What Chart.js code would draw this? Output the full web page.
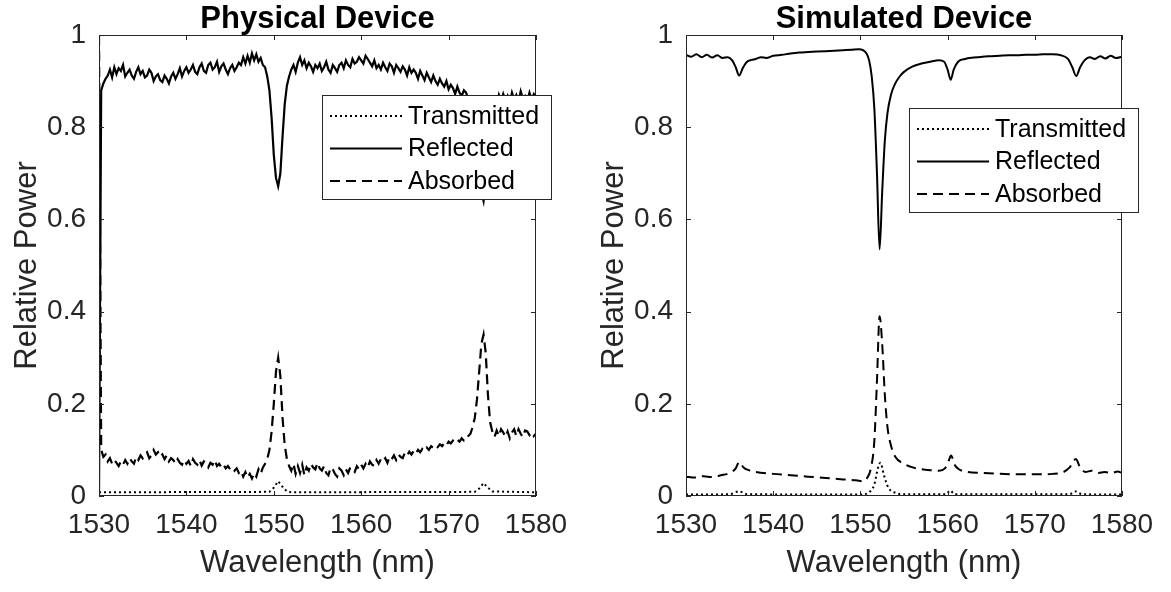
<!DOCTYPE html>
<html>
<head>
<meta charset="utf-8">
<script src="https://cdn.jsdelivr.net/npm/chart.js@4"></script>
<style>
  body { margin: 0; background: #fff; }
  #wrap { position: relative; width: 1171px; height: 592px; }
  canvas { position: absolute; top: 0; }
</style>
</head>
<body>
<div id="wrap">
  <canvas id="physChart" width="585" height="592" style="left:0px"></canvas>
  <canvas id="simChart" width="584" height="592" style="left:587px"></canvas>
</div>
<script>
// ---- data ----
const seriesNames = ['Transmitted', 'Reflected', 'Absorbed'];
const xTicks = [1530, 1540, 1550, 1560, 1570, 1580];
const yTicks = [0, 0.2, 0.4, 0.6, 0.8, 1];

// physical device: measured on a 0.25 nm grid from 1530 nm
const physGridStart = 1530;
const physGridStep = 0.25;
const physReflected = [
  0.00, 0.88, 0.895, 0.905, 0.912, 0.925, 0.908, 0.93, 0.915, 0.928, 0.922, 0.935,
  0.91, 0.918, 0.925, 0.912, 0.905, 0.92, 0.93, 0.915, 0.922, 0.908, 0.912, 0.925,
  0.918, 0.90, 0.91, 0.915, 0.902, 0.898, 0.912, 0.905, 0.895, 0.91, 0.918, 0.905,
  0.915, 0.928, 0.91, 0.922, 0.93, 0.918, 0.925, 0.935, 0.92, 0.915, 0.93, 0.938,
  0.922, 0.918, 0.935, 0.94, 0.925, 0.93, 0.942, 0.92, 0.932, 0.938, 0.925, 0.915,
  0.928, 0.935, 0.922, 0.93, 0.94, 0.935, 0.952, 0.938, 0.955, 0.94, 0.96, 0.945,
  0.958, 0.942, 0.95, 0.935, 0.93, 0.91, 0.88, 0.82, 0.74, 0.69, 0.672, 0.70,
  0.78, 0.85, 0.89, 0.91, 0.925, 0.935, 0.92, 0.94, 0.952, 0.935, 0.945, 0.928,
  0.94, 0.932, 0.92, 0.935, 0.928, 0.938, 0.922, 0.93, 0.942, 0.925, 0.918, 0.935,
  0.928, 0.92, 0.935, 0.94, 0.928, 0.945, 0.935, 0.93, 0.948, 0.938, 0.942, 0.952,
  0.945, 0.938, 0.955, 0.948, 0.94, 0.932, 0.945, 0.928, 0.935, 0.925, 0.94, 0.93,
  0.922, 0.938, 0.932, 0.918, 0.935, 0.928, 0.92, 0.932, 0.925, 0.912, 0.93, 0.918,
  0.925, 0.918, 0.905, 0.922, 0.912, 0.902, 0.918, 0.908, 0.898, 0.912, 0.90, 0.892,
  0.905, 0.895, 0.888, 0.90, 0.882, 0.892, 0.885, 0.872, 0.888, 0.875, 0.868, 0.88,
  0.875, 0.86, 0.855, 0.84, 0.82, 0.78, 0.72, 0.66, 0.64, 0.68, 0.76, 0.82,
  0.85, 0.862, 0.85, 0.87, 0.855, 0.872, 0.858, 0.868, 0.852, 0.875, 0.86, 0.87,
  0.855, 0.878, 0.862, 0.868, 0.858, 0.875, 0.86, 0.872, 0.865
];
const physAbsorbed = [
  1.00, 0.10, 0.085, 0.09, 0.075, 0.082, 0.07, 0.078, 0.072, 0.065, 0.075, 0.068,
  0.078, 0.07, 0.082, 0.075, 0.07, 0.085, 0.078, 0.088, 0.082, 0.09, 0.095, 0.082,
  0.088, 0.10, 0.09, 0.095, 0.085, 0.09, 0.08, 0.088, 0.075, 0.082, 0.078, 0.07,
  0.08, 0.072, 0.068, 0.078, 0.07, 0.076, 0.065, 0.08, 0.072, 0.068, 0.078, 0.066,
  0.075, 0.07, 0.062, 0.072, 0.068, 0.078, 0.065, 0.07, 0.062, 0.068, 0.06, 0.065,
  0.058, 0.062, 0.055, 0.06, 0.05, 0.055, 0.042, 0.052, 0.04, 0.048, 0.038, 0.05,
  0.042, 0.058, 0.048, 0.062, 0.07, 0.08, 0.10, 0.14, 0.20, 0.27, 0.30, 0.26,
  0.17, 0.11, 0.08, 0.065, 0.055, 0.07, 0.048, 0.065, 0.05, 0.068, 0.045, 0.062,
  0.055, 0.07, 0.062, 0.058, 0.072, 0.06, 0.055, 0.065, 0.05, 0.045, 0.062, 0.058,
  0.048, 0.042, 0.06, 0.055, 0.045, 0.058, 0.05, 0.062, 0.055, 0.052, 0.065, 0.058,
  0.068, 0.06, 0.07, 0.062, 0.075, 0.068, 0.065, 0.078, 0.07, 0.08, 0.075, 0.082,
  0.072, 0.085, 0.08, 0.088, 0.078, 0.09, 0.085, 0.082, 0.094, 0.088, 0.096, 0.09,
  0.098, 0.092, 0.10, 0.095, 0.102, 0.098, 0.105, 0.10, 0.108, 0.104, 0.11, 0.106,
  0.112, 0.108, 0.115, 0.11, 0.118, 0.114, 0.12, 0.116, 0.122, 0.118, 0.125, 0.12,
  0.12, 0.13, 0.135, 0.15, 0.17, 0.21, 0.27, 0.33, 0.35, 0.31, 0.22, 0.16,
  0.14, 0.128, 0.142, 0.13, 0.145, 0.138, 0.128, 0.14, 0.125, 0.138, 0.145, 0.13,
  0.145, 0.135, 0.128, 0.142, 0.14, 0.132, 0.138, 0.13, 0.135
];
const physTransWl = [1530, 1549.5, 1550, 1550.5, 1551, 1551.5, 1552, 1573, 1573.5, 1574, 1574.5, 1575, 1580];
const physTrans   = [0.008, 0.009, 0.018, 0.032, 0.02, 0.01, 0.008, 0.009, 0.016, 0.028, 0.018, 0.01, 0.008];

// simulated device
const simReflWl = [
  1530, 1530.6, 1531.2, 1531.8, 1532.4, 1533, 1533.6, 1534.2, 1534.8, 1535.3, 1535.7, 1536.1,
  1536.5, 1537, 1537.5, 1538, 1538.6, 1539.2, 1540, 1541, 1542, 1543, 1544, 1545,
  1546, 1547, 1548, 1549, 1549.8, 1550.3, 1550.7, 1551, 1551.3, 1551.6, 1551.9, 1552.2,
  1552.5, 1552.8, 1553.1, 1553.5, 1554, 1554.5, 1555, 1556, 1557, 1558, 1559, 1559.6,
  1560, 1560.35, 1560.7, 1561.2, 1562, 1563, 1564, 1565, 1566, 1567, 1568, 1569,
  1570, 1571, 1572, 1573, 1573.8, 1574.3, 1574.75, 1575.2, 1575.7, 1576.3, 1576.9, 1577.5,
  1578.1, 1578.7, 1579.3, 1580
];
const simRefl = [
  0.957, 0.953, 0.958, 0.952, 0.957, 0.951, 0.956, 0.95, 0.952, 0.945, 0.93, 0.912,
  0.928, 0.942, 0.946, 0.948, 0.952, 0.95, 0.955, 0.957, 0.96, 0.962, 0.963, 0.964,
  0.965, 0.966, 0.967, 0.968, 0.969, 0.967, 0.96, 0.945, 0.91, 0.84, 0.70, 0.535,
  0.66, 0.77, 0.83, 0.87, 0.895, 0.91, 0.92, 0.932, 0.938, 0.942, 0.945, 0.942,
  0.925, 0.903, 0.925, 0.942, 0.948, 0.951, 0.953, 0.954, 0.955, 0.956, 0.956, 0.957,
  0.957, 0.958, 0.958, 0.956, 0.948, 0.93, 0.911, 0.93, 0.945, 0.952, 0.948, 0.954,
  0.949, 0.955, 0.95, 0.953
];
const simAbsWl = [
  1530, 1531, 1532, 1533, 1534, 1535, 1535.7, 1536.1, 1536.6, 1537.2, 1538, 1540,
  1542, 1544, 1546, 1548, 1549.5, 1550.3, 1550.8, 1551.2, 1551.6, 1551.9, 1552.2, 1552.5,
  1552.8, 1553.1, 1553.5, 1554, 1555, 1556, 1557, 1558, 1559, 1559.7, 1560.1, 1560.4,
  1560.8, 1561.3, 1562, 1564, 1566, 1568, 1570, 1572, 1573.3, 1574, 1574.7, 1575.2,
  1575.8, 1576.5, 1577.3, 1578, 1578.8, 1579.5, 1580
];
const simAbs = [
  0.042, 0.04, 0.043, 0.041, 0.045, 0.05, 0.06, 0.074, 0.062, 0.056, 0.052, 0.048,
  0.045, 0.042, 0.039, 0.036, 0.034, 0.032, 0.04, 0.06, 0.12, 0.25, 0.39, 0.33,
  0.22, 0.15, 0.11, 0.085, 0.07, 0.062, 0.058, 0.056, 0.055, 0.06, 0.075, 0.088,
  0.068, 0.058, 0.053, 0.05, 0.048, 0.047, 0.047, 0.048, 0.052, 0.062, 0.08, 0.062,
  0.052, 0.055, 0.05, 0.052, 0.05, 0.053, 0.05
];
const simTransWl = [1530, 1535, 1536.1, 1537, 1550, 1551, 1551.6, 1552, 1552.3, 1552.7, 1553.2, 1554, 1555, 1559.8, 1560.3, 1560.8, 1574, 1574.7, 1575.4, 1580];
const simTrans   = [0.003, 0.004, 0.01, 0.004, 0.003, 0.008, 0.025, 0.06, 0.072, 0.045, 0.018, 0.007, 0.004, 0.004, 0.012, 0.004, 0.004, 0.01, 0.004, 0.003];

// ---- helpers ----
const FONT = '"Liberation Sans", Arial, Helvetica, sans-serif';
const AXIS_COLOR = '#262626';
const dashes = { Transmitted: [2, 3], Reflected: [], Absorbed: [10, 6] };

const pairs = (xs, ys) => ys.map((y, i) => ({ x: xs[i], y: y }));
const physGrid = physReflected.map((_, i) => physGridStart + i * physGridStep);

function makeDataset(name, points, smooth, width) {
  return {
    label: name,
    data: points,
    borderColor: '#000',
    borderWidth: width || 2,
    borderDash: dashes[name],
    pointRadius: 0,
    fill: false,
    tension: 0,
    cubicInterpolationMode: smooth ? 'monotone' : 'default'
  };
}

// box, inward ticks, title and legend in the MATLAB look
const matlabFrame = {
  id: 'matlabFrame',
  afterDatasetsDraw(chart, args, opts) {
    const { ctx, chartArea: a, scales } = chart;
    ctx.save();
    ctx.strokeStyle = AXIS_COLOR;
    ctx.lineWidth = 1;
    ctx.setLineDash([]);
    ctx.strokeRect(a.left + 0.5, a.top + 0.5, a.width - 1, a.height - 1);
    ctx.beginPath();
    scales.x.ticks.forEach(t => {
      const px = Math.round(scales.x.getPixelForValue(t.value)) + 0.5;
      ctx.moveTo(px, a.bottom); ctx.lineTo(px, a.bottom - 5);
      ctx.moveTo(px, a.top); ctx.lineTo(px, a.top + 5);
    });
    scales.y.ticks.forEach(t => {
      const py = Math.round(scales.y.getPixelForValue(t.value)) + 0.5;
      ctx.moveTo(a.left, py); ctx.lineTo(a.left + 5, py);
      ctx.moveTo(a.right, py); ctx.lineTo(a.right - 5, py);
    });
    ctx.stroke();

    ctx.fillStyle = '#000';
    ctx.font = 'bold 31px ' + FONT;
    ctx.textAlign = 'center';
    ctx.textBaseline = 'alphabetic';
    ctx.fillText(opts.title, (a.left + a.right) / 2, a.top - 7);
    ctx.restore();
  },
  afterDraw(chart, args, opts) {
    const { ctx, chartArea: a } = chart;
    const left = a.left + opts.legendLeft;
    const top = opts.legendTop;
    const w = 229, h = 104;
    ctx.save();
    ctx.fillStyle = '#fff';
    ctx.fillRect(left, top, w, h);
    ctx.strokeStyle = AXIS_COLOR;
    ctx.lineWidth = 1;
    ctx.strokeRect(left + 0.5, top + 0.5, w, h);
    ctx.font = '25px ' + FONT;
    ctx.textAlign = 'left';
    ctx.textBaseline = 'middle';
    chart.data.datasets.forEach((ds, i) => {
      const cy = top + 21 + i * 32.5;
      ctx.strokeStyle = '#000';
      ctx.lineWidth = 2;
      ctx.setLineDash(ds.borderDash);
      ctx.beginPath();
      ctx.moveTo(left + 8, cy);
      ctx.lineTo(left + 80, cy);
      ctx.stroke();
      ctx.fillStyle = '#000';
      ctx.fillText(ds.label, left + 86, cy + 1);
    });
    ctx.restore();
  }
};

function buildChart(id, datasets, title, legendLeft, legendTop) {
  return new Chart(document.getElementById(id).getContext('2d'), {
    type: 'line',
    data: { datasets: datasets },
    options: {
      responsive: false,
      animation: false,
      devicePixelRatio: 1,
      layout: { padding: { top: 35, right: 49, left: 0, bottom: 0 } },
      plugins: {
        legend: { display: false },
        title: { display: false },
        tooltip: { enabled: false },
        matlabFrame: { title: title, legendLeft: legendLeft, legendTop: legendTop }
      },
      scales: {
        x: {
          type: 'linear',
          min: 1530, max: 1580,
          afterBuildTicks: s => { s.ticks = xTicks.map(v => ({ value: v })); },
          afterFit: s => { s.height = 96; },
          grid: { display: false, drawTicks: false },
          border: { display: false },
          ticks: {
            padding: 12,
            color: AXIS_COLOR,
            font: { family: FONT, size: 28 },
            maxRotation: 0,
            callback: v => String(v)
          },
          title: {
            display: true,
            text: 'Wavelength (nm)',
            color: AXIS_COLOR,
            font: { family: FONT, size: 31 },
            padding: { top: 0, bottom: 10 }
          }
        },
        y: {
          min: 0, max: 1,
          afterBuildTicks: s => { s.ticks = yTicks.map(v => ({ value: v })); },
          afterFit: s => { s.width = 99; },
          grid: { display: false, drawTicks: false },
          border: { display: false },
          ticks: {
            padding: 13,
            color: AXIS_COLOR,
            font: { family: FONT, size: 28 },
            callback: v => String(v)
          },
          title: {
            display: true,
            text: 'Relative Power',
            color: AXIS_COLOR,
            font: { family: FONT, size: 31 },
            padding: { top: 9, bottom: 0 }
          }
        }
      }
    },
    plugins: [matlabFrame]
  });
}

buildChart('physChart', [
  makeDataset(seriesNames[0], pairs(physTransWl, physTrans), false),
  makeDataset(seriesNames[1], pairs(physGrid, physReflected), false, 2.2),
  makeDataset(seriesNames[2], pairs(physGrid, physAbsorbed), false, 2.2)
], 'Physical Device', 223, 95);

buildChart('simChart', [
  makeDataset(seriesNames[0], pairs(simTransWl, simTrans), true),
  makeDataset(seriesNames[1], pairs(simReflWl, simRefl), true),
  makeDataset(seriesNames[2], pairs(simAbsWl, simAbs), true)
], 'Simulated Device', 223, 108);
</script>
</body>
</html>
